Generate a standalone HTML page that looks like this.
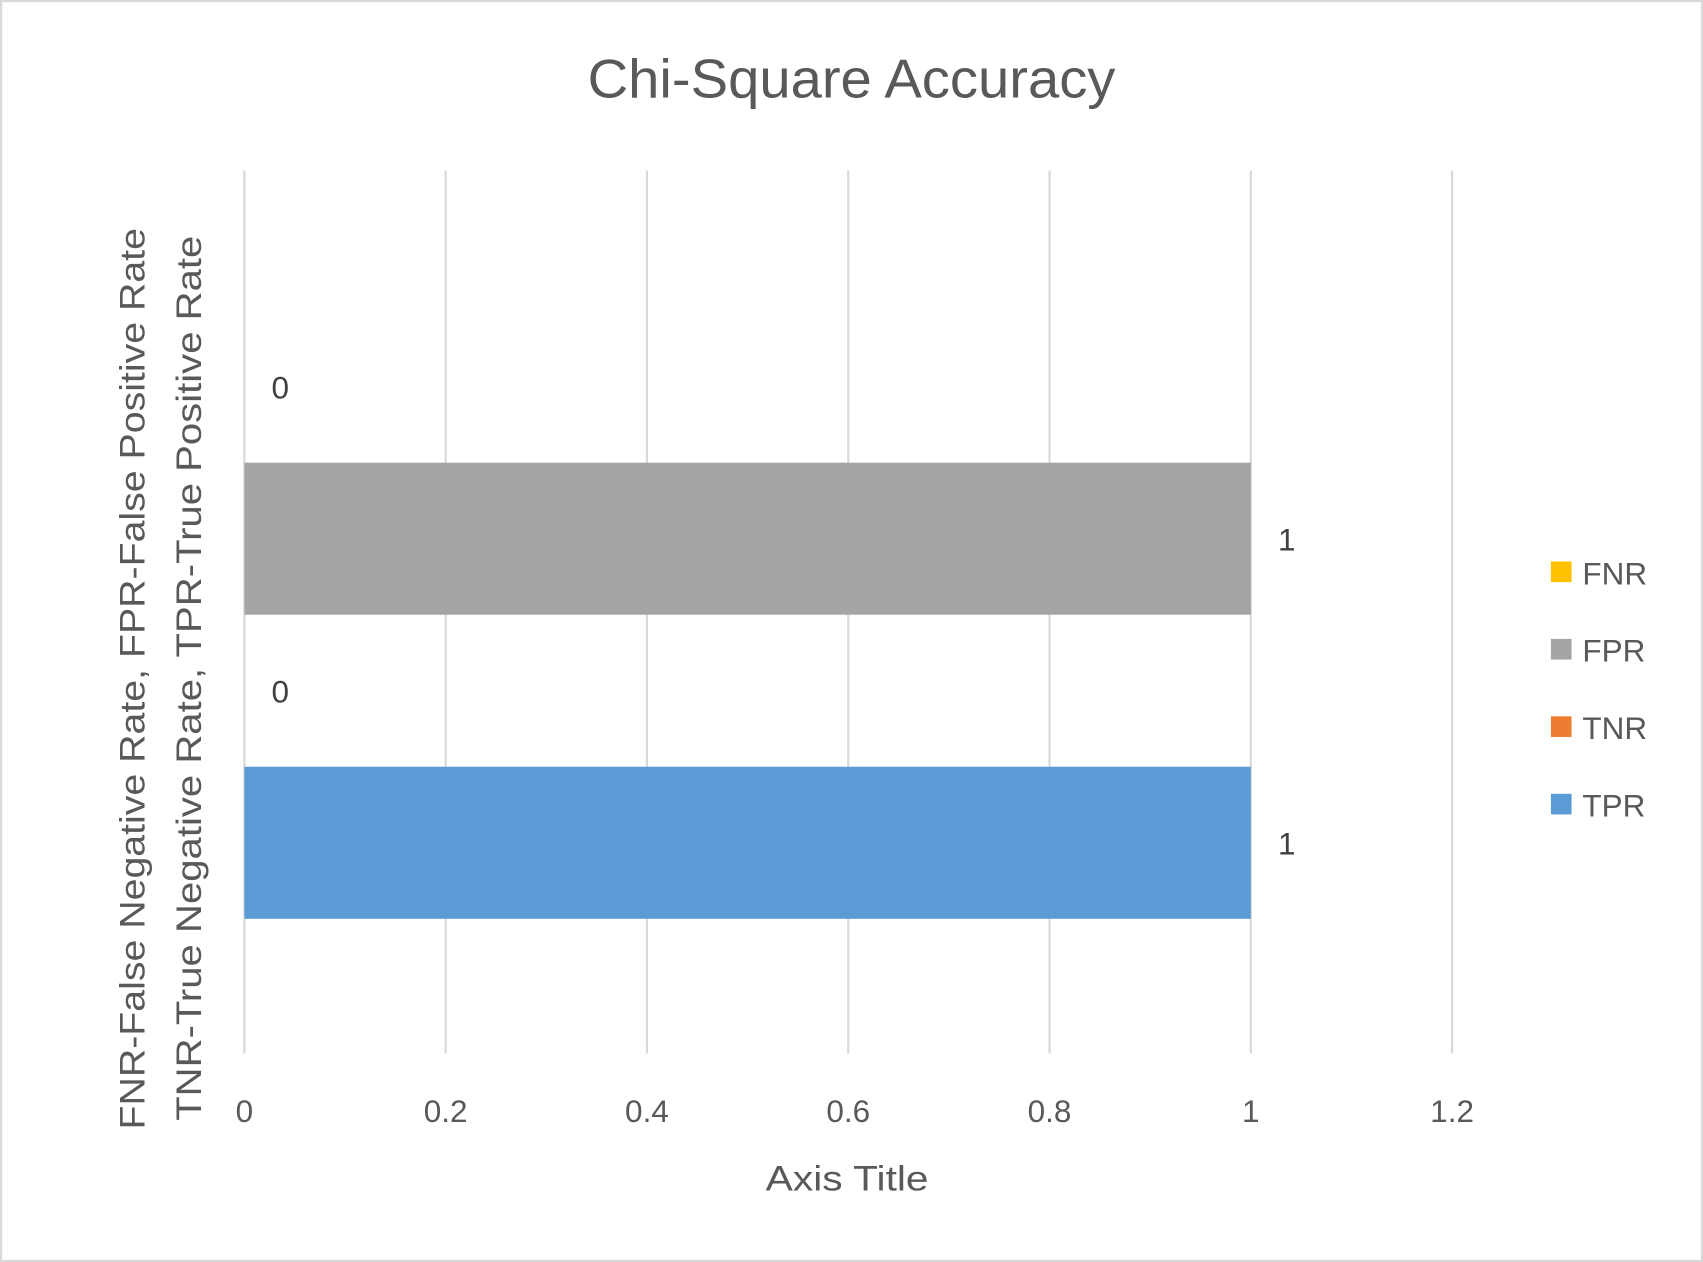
<!DOCTYPE html>
<html><head><meta charset="utf-8"><style>
html,body{margin:0;padding:0;background:#fff;}
svg{display:block;font-family:"Liberation Sans",sans-serif;}
</style></head><body>
<svg id="chart" width="1703" height="1262" viewBox="0 0 1568 1162">
<rect x="1" y="1" width="1566" height="1160" fill="#fff" stroke="#d9d9d9" stroke-width="2"/>
<text x="784" y="90" text-anchor="middle" font-size="50" fill="#595959" textLength="486" lengthAdjust="spacingAndGlyphs">Chi-Square Accuracy</text>
<g id="grid"></g>
<g id="bars"></g>
<g id="labels"></g>
<g id="ticks"></g>
<text x="780" y="1096" text-anchor="middle" font-size="32" fill="#595959" textLength="150" lengthAdjust="spacingAndGlyphs">Axis Title</text>
<text transform="translate(133,1040) rotate(-90)" font-size="32" fill="#595959" textLength="830" lengthAdjust="spacingAndGlyphs">FNR-False Negative Rate, FPR-False Positive Rate</text>
<text transform="translate(185,1032) rotate(-90)" font-size="32" fill="#595959" textLength="815" lengthAdjust="spacingAndGlyphs">TNR-True Negative Rate, TPR-True Positive Rate</text>
<g id="legend"></g>
</svg>
<script>
const series = ["TPR","TNR","FPR","FNR"];
const values = [1,0,1,0];
const colors = ["#5b9bd5","#ed7d31","#a5a5a5","#ffc000"];
const tickValues = [0,0.2,0.4,0.6,0.8,1,1.2];
const tickLabels = ["0","0.2","0.4","0.6","0.8","1","1.2"];
const NS="http://www.w3.org/2000/svg";
const x0=225, x1=1337, xmax=1.2, yBottom=846, slot=140;
const xs=v=>x0+(x1-x0)*v/xmax;
const ys=i=>yBottom-slot*(i+1);
function mk(tag,attrs,parent){const e=document.createElementNS(NS,tag);for(const k in attrs)e.setAttribute(k,attrs[k]);document.getElementById(parent).appendChild(e);return e;}
tickValues.forEach((t,i)=>{
  const g=mk('line',{x1:xs(t),x2:xs(t),y1:157,y2:970,stroke:'#d9d9d9','stroke-width':2},'grid');
  
  
  const tx=mk('text',{x:xs(t),y:1033,'text-anchor':'middle','font-size':29,fill:'#595959'},'ticks');
  tx.textContent=tickLabels[i];
  
  
});
series.forEach((s,i)=>{
  const y=ys(i);
  const w=xs(values[i])-xs(0);
  if(w>0){
    const r=mk('rect',{x:xs(0),y:y,width:w,height:slot,fill:colors[i]},'bars');
    
    
  }
  const l=mk('text',{x:xs(values[i])+25,y:y+slot/2+11,'font-size':29,fill:'#404040'},'labels');
  l.textContent=String(values[i]);
  
  
});
const legendOrder=[3,2,1,0];
legendOrder.forEach((k,j)=>{
  const y=528+j*71.3;
  const r=mk('rect',{x:1428,y:y-11,width:19,height:19,fill:colors[k]},'legend');
  
  
  const t=mk('text',{x:1457,y:y+10,'font-size':29,fill:'#595959'},'legend');
  t.textContent=series[k];
  
  
});
</script>
</body></html>
